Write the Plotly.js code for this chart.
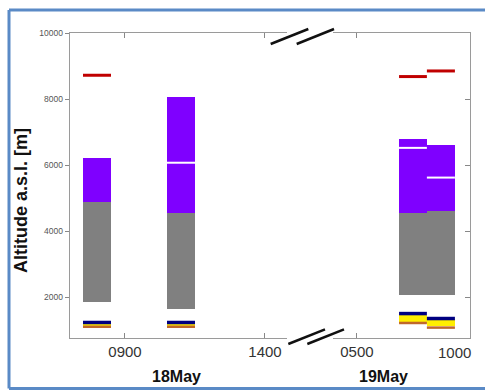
<!DOCTYPE html>
<html>
<head>
<meta charset="utf-8">
<script src="https://cdn.plot.ly/plotly-3.0.1.min.js"></script>
<style>html,body{margin:0;padding:0;background:#fff;overflow:hidden;}#chart{width:487px;height:390px;}</style>
</head>
<body>
<div id="chart"></div>
<script>
// ---- data (hours of day, altitude in m a.s.l.) ----
const dayLabels   = ['18May', '19May'];
const profileDay  = [0, 0, 1, 1];            // which day / panel each profile belongs to
const profStart   = [7.5, 10.5, 7.15, 8.57];
const profEnd     = [8.5, 11.5, 8.57, 10.0];
const grayBase    = [1840, 1630, 2060, 2060];
const grayTop     = [4890, 4540, 4555, 4605];
const purpleBase  = [4890, 4540, 4555, 4605];
const purpleTop   = [6220, 8070, 6780, 6610];
const whiteLine   = [null, 6070, 6520, 5620];
const redLine     = [8720, null, 8680, 8850];
const yellowBase  = [1120, 1120, 1225, 1110];
const yellowTop   = [1215, 1215, 1455, 1330];
const navyLine    = [1230, 1230, 1500, 1350];
const brownLine   = [1100, 1100, 1215, 1075];
const day1Ticks   = [9, 14];
const day1Text    = ['0900', '1400'];
const day2Ticks   = [5, 10];
const day2Text    = ['0500', '1000'];
const yTicks      = [2000, 4000, 6000, 8000, 10000];
const yTickText   = ['2000', '4000', '6000', '8000', '10000'];

// ---- build traces ----
const axX = ['x', 'x2'], axY = ['y', 'y2'];
const traces = [];
function barTrace(base, top, color) {
  [0, 1].forEach(d => {
    const idx = profileDay.map((v, i) => v === d ? i : -1).filter(i => i >= 0);
    traces.push({
      type: 'bar', xaxis: axX[d], yaxis: axY[d],
      x: idx.map(i => (profStart[i] + profEnd[i]) / 2),
      width: idx.map(i => profEnd[i] - profStart[i]),
      base: idx.map(i => base[i]),
      y: idx.map(i => top[i] - base[i]),
      marker: {color: color, line: {width: 0}},
      hoverinfo: 'skip', showlegend: false
    });
  });
}
function lineTrace(vals, color, w) {
  vals.forEach((v, i) => {
    if (v === null) return;
    const d = profileDay[i];
    traces.push({
      type: 'scatter', mode: 'lines', xaxis: axX[d], yaxis: axY[d],
      x: [profStart[i], profEnd[i]], y: [v, v],
      line: {color: color, width: w}, hoverinfo: 'skip', showlegend: false
    });
  });
}
barTrace(grayBase, grayTop, '#808080');
barTrace(purpleBase, purpleTop, '#7f00ff');
barTrace(yellowBase, yellowTop, '#ffee00');
lineTrace(whiteLine, '#ffffff', 2);
lineTrace(redLine, '#c00000', 3);
lineTrace(navyLine, '#000080', 3.5);
lineTrace(brownLine, '#c0682a', 2.5);

// ---- layout ----
const axisCommon = {
  showline: true, linecolor: '#9a9a9a', linewidth: 1.3,
  showgrid: false, zeroline: false, fixedrange: true
};
const xFont = {family: 'Liberation Sans, Arial, sans-serif', size: 15, color: '#333'};
const frame = {color: '#5a8ac6', width: 3};
const layout = {
  width: 487, height: 390,
  margin: {l: 70, r: 17, t: 33, b: 52},
  paper_bgcolor: '#ffffff', plot_bgcolor: '#ffffff',
  showlegend: false, barmode: 'overlay', bargap: 0,
  xaxis: Object.assign({}, axisCommon, {
    domain: [0, 0.5425], range: [7.036, 14.786], anchor: 'y',
    tickmode: 'array', tickvals: day1Ticks, ticktext: day1Text,
    ticks: 'inside', ticklen: 5, tickcolor: '#888', mirror: 'ticks',
    tickfont: xFont
  }),
  xaxis2: Object.assign({}, axisCommon, {
    domain: [0.6575, 1], range: [3.78, 10.77], anchor: 'y2',
    tickmode: 'array', tickvals: day2Ticks.slice(0, 1), ticktext: day2Text.slice(0, 1),
    ticks: 'inside', ticklen: 5, tickcolor: '#888', mirror: 'ticks',
    tickfont: xFont
  }),
  yaxis: Object.assign({}, axisCommon, {
    domain: [0, 1], range: [760, 10000], anchor: 'x',
    tickmode: 'array', tickvals: yTicks, ticktext: yTickText,
    ticks: 'outside', ticklen: 4, tickcolor: '#888',
    tickfont: {family: 'Liberation Sans, Arial, sans-serif', size: 8.5, color: '#555'}
  }),
  yaxis2: Object.assign({}, axisCommon, {
    domain: [0, 1], range: [760, 10000], anchor: 'x2', side: 'right',
    tickmode: 'array', tickvals: yTicks, showticklabels: false,
    ticks: 'inside', ticklen: 5, tickcolor: '#888'
  }),
  annotations: [
    {xref: 'x2', yref: 'paper', x: day2Ticks[1], y: -0.049, text: day2Text[1],
     showarrow: false, xanchor: 'center', yanchor: 'middle', font: xFont},
    {xref: 'paper', yref: 'paper', x: 0.265, y: -0.1246, text: '<b>' + dayLabels[0] + '</b>',
     showarrow: false, xanchor: 'center', yanchor: 'middle',
     font: {family: 'Liberation Sans, Arial, sans-serif', size: 16, color: '#111'}},
    {xref: 'paper', yref: 'paper', x: 0.7825, y: -0.1246, text: '<b>' + dayLabels[1] + '</b>',
     showarrow: false, xanchor: 'center', yanchor: 'middle',
     font: {family: 'Liberation Sans, Arial, sans-serif', size: 16, color: '#111'}},
    {xref: 'paper', yref: 'paper', x: -0.1225, y: 0.449, text: '<b>Altitude a.s.l. [m]</b>',
     textangle: -90, showarrow: false, xanchor: 'center', yanchor: 'middle',
     font: {family: 'Liberation Sans, Arial, sans-serif', size: 18, color: '#111'}}
  ],
  shapes: [
    {type: 'line', xref: 'paper', yref: 'paper', x0: -0.1525, x1: -0.1525, y0: -0.1656, y1: 1.0754,
     line: frame, layer: 'below'},
    {type: 'line', xref: 'paper', yref: 'paper', x0: -0.1525, x1: 1.0375, y0: 1.0754, y1: 1.0754,
     line: frame, layer: 'below'},
    {type: 'line', xref: 'paper', yref: 'paper', x0: -0.1525, x1: 1.0375, y0: -0.1656, y1: -0.1656,
     line: frame, layer: 'below'},
    {type: 'line', xref: 'paper', yref: 'paper', x0: 0.5017, y0: 0.964, x1: 0.5958, y1: 1.0131,
     line: {color: '#111', width: 2.5}, layer: 'above'},
    {type: 'line', xref: 'paper', yref: 'paper', x0: 0.5667, y0: 0.964, x1: 0.66, y1: 1.0131,
     line: {color: '#111', width: 2.5}, layer: 'above'},
    {type: 'line', xref: 'paper', yref: 'paper', x0: 0.5458, y0: -0.0197, x1: 0.6375, y1: 0.0285,
     line: {color: '#111', width: 2.5}, layer: 'above'},
    {type: 'line', xref: 'paper', yref: 'paper', x0: 0.5933, y0: -0.0197, x1: 0.685, y1: 0.0285,
     line: {color: '#111', width: 2.5}, layer: 'above'}
  ]
};
Plotly.newPlot('chart', traces, layout, {staticPlot: true, displayModeBar: false});
</script>
</body>
</html>
